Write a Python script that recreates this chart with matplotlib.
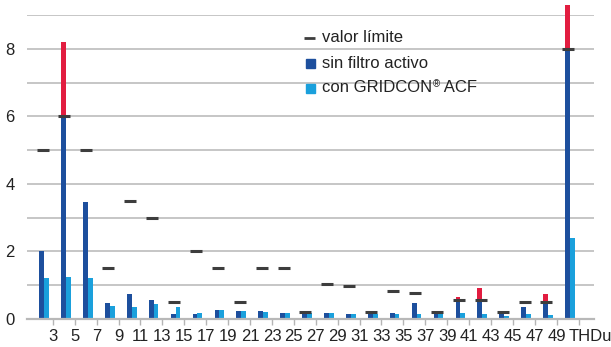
import matplotlib
matplotlib.use("Agg")
import matplotlib.pyplot as plt
import matplotlib.transforms as mtransforms
import numpy as np

plt.rcParams['font.family'] = ['Liberation Sans', 'DejaVu Sans']

# Harmonic orders and total harmonic distortion
categories = ['3', '5', '7', '9', '11', '13', '15', '17', '19', '21', '23', '25',
              '27', '29', '31', '33', '35', '37', '39', '41', '43', '45', '47', '49', 'THDu']
# Voltage distortion in % without active filter
sin_filtro = [2.0, 8.2, 3.46, 0.47, 0.74, 0.56, 0.15, 0.15, 0.27, 0.24, 0.24, 0.18,
              0.18, 0.18, 0.15, 0.18, 0.18, 0.47, 0.2, 0.65, 0.93, 0.2, 0.35, 0.74, 9.29]
# Voltage distortion in % with GRIDCON ACF
con_acf = [1.2, 1.24, 1.21, 0.38, 0.36, 0.44, 0.36, 0.18, 0.27, 0.24, 0.21, 0.18,
           0.18, 0.18, 0.15, 0.15, 0.15, 0.15, 0.15, 0.18, 0.15, 0.09, 0.15, 0.12, 2.4]
# Limit values per harmonic order
valor_limite = [5, 6, 5, 1.5, 3.5, 3, 0.5, 2, 1.5, 0.5, 1.5, 1.5,
                0.2, 1.05, 0.97, 0.2, 0.83, 0.76, 0.2, 0.57, 0.56, 0.2, 0.5, 0.5, 8]

DARK = '#1d4f9d'
LIGHT = '#1aa0dc'
RED = '#e21d40'
LIMIT = '#3d3d3d'
GRID = '#c6c6c6'
TEXT = '#222222'

fig = plt.figure(figsize=(6.11, 3.47), dpi=100)
ax = fig.add_axes([27 / 611, 28 / 347, 567 / 611, 304 / 347])

x = np.arange(len(categories))
sin_arr = np.array(sin_filtro)
lim_arr = np.array(valor_limite)
w = 0.22

below = np.minimum(sin_arr, lim_arr)
excess = np.clip(sin_arr - lim_arr, 0, None)

ax.bar(x - w / 2, below, width=w, color=DARK, zorder=3, clip_on=False)
ax.bar(x - w / 2, excess, bottom=below, width=w, color=RED, zorder=3, clip_on=False)
ax.bar(x + w / 2, con_acf, width=w, color=LIGHT, zorder=3, clip_on=False)

# Limit markers
for xi, lv in zip(x, valor_limite):
    ax.plot([xi - 0.345, xi + 0.205], [lv, lv], color=LIMIT, lw=2.2,
            solid_capstyle='butt', zorder=4)

ax.set_xlim(-0.78, 25.1)
ax.set_ylim(0, 9)

ax.set_yticks(np.arange(0, 10, 1))
ax.set_yticklabels([str(v) if v % 2 == 0 else '' for v in range(10)])
ax.yaxis.grid(True, color=GRID, lw=1.4, zorder=0)
ax.set_axisbelow(True)
ax.tick_params(axis='y', length=0, pad=9, labelsize=12, labelcolor=TEXT)

ax.set_xticks(x + 0.4)
ax.set_xticklabels(categories)
ax.tick_params(axis='x', length=4, width=1, color='#b5b5b5', pad=3,
               labelsize=12, labelcolor=TEXT)
thd_label = ax.get_xticklabels()[-1]
thd_label.set_transform(thd_label.get_transform() +
                        mtransforms.ScaledTranslation(0.12, 0, fig.dpi_scale_trans))

for side in ['left', 'right', 'top']:
    ax.spines[side].set_visible(False)
ax.spines['bottom'].set_color('#b8b8b8')
ax.spines['bottom'].set_linewidth(1.6)
ax.spines['bottom'].set_zorder(5)

# Legend
def fx(px):
    return px / 611

def fy(py):
    return 1 - py / 347

fig.add_artist(plt.Line2D([fx(304), fx(315)], [fy(38), fy(38)], color=LIMIT,
                          lw=2, solid_capstyle='butt'))
fig.text(fx(322), fy(38), 'valor límite', fontsize=12, color=TEXT, va='center', ha='left')

fig.add_artist(plt.Rectangle((fx(306), fy(63 + 4.5)), 9 / 611, 9 / 347,
                             color=DARK, transform=fig.transFigure))
fig.text(fx(322), fy(63), 'sin filtro activo', fontsize=12, color=TEXT,
         va='center', ha='left')

fig.add_artist(plt.Rectangle((fx(306), fy(88 + 4.5)), 9 / 611, 9 / 347,
                             color=LIGHT, transform=fig.transFigure))
t1 = fig.text(fx(322), fy(88), 'con GRIDCON', fontsize=12, color=TEXT,
              va='center', ha='left')
renderer = fig.canvas.get_renderer()
bb = t1.get_window_extent(renderer)
t2 = fig.text(bb.x1 / fig.bbox.width + 0.5 / 611, fy(84), '®', fontsize=7,
              color=TEXT, va='center', ha='left')
bb2 = t2.get_window_extent(renderer)
fig.text(bb2.x1 / fig.bbox.width, fy(88), ' ACF', fontsize=12, color=TEXT,
         va='center', ha='left')

fig.savefig('out.png', dpi=100)
